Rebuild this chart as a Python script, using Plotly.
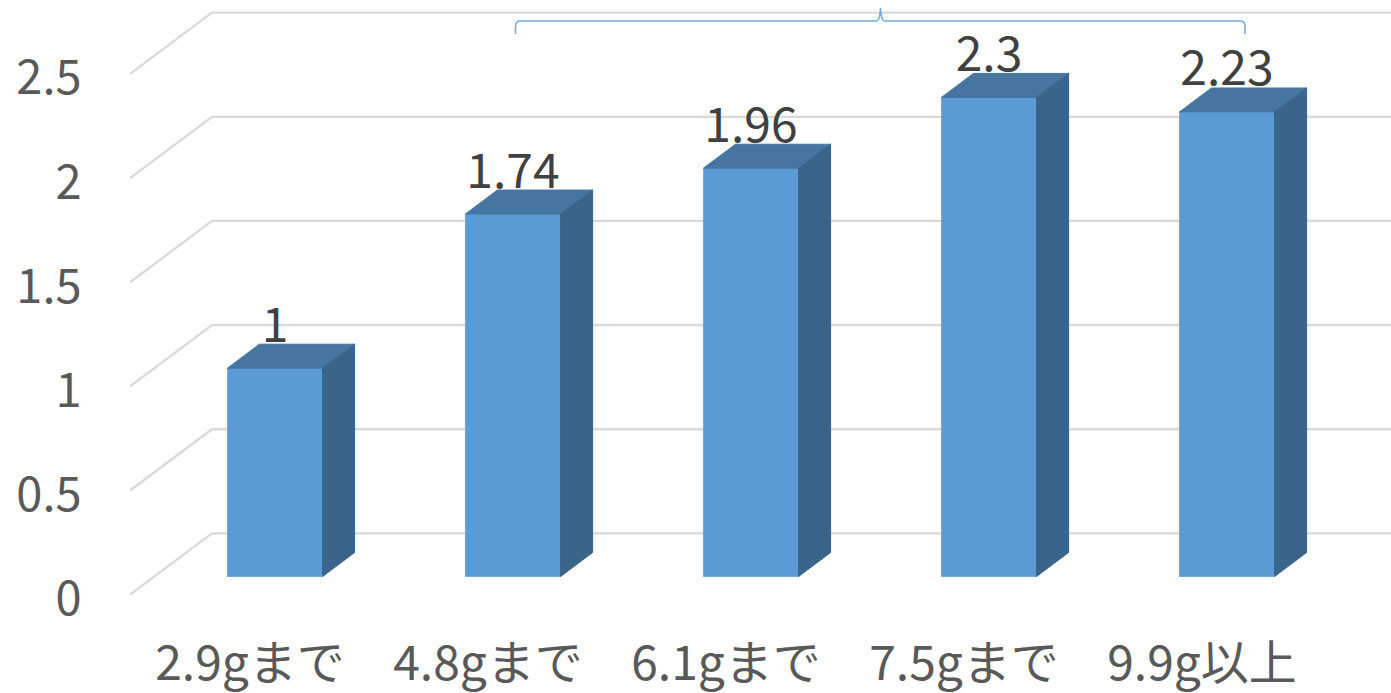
import plotly.graph_objects as go

# Chart data
categories = ["2.9gまで", "4.8gまで", "6.1gまで", "7.5gまで", "9.9g以上"]
values = [1, 1.74, 1.96, 2.3, 2.23]
y_ticks = [0, 0.5, 1, 1.5, 2, 2.5]
y_tick_labels = ["0", "0.5", "1", "1.5", "2", "2.5"]

# Canvas and scale
W, H = 1391, 693
UNIT_X = 238.0     # pixels per category step
UNIT_Y = 208.3     # pixels per value unit

# Projection: each plane of the pseudo-3D box has its own origin in pixels
FRONT_X0, FRONT_Y0 = 250.0, 594.7   # category 0 / value 0 on the front plane
BAR_X0, BAR_Y0 = 275.0, 576.5       # category 0 / value 0 on the bars' front faces
LEFT_EDGE = 130.0

BAR_WIDTH = 0.40
BAR_DX = 32.0 / UNIT_X
BAR_DY = 24.0 / UNIT_Y
WALL_DX = 82.0 / UNIT_X
WALL_DY = 61.3 / UNIT_Y
LABEL_GAP = 38.5 / UNIT_Y

FRONT_COLOR = "#5B9BD5"
TOP_COLOR = "#4675A2"
SIDE_COLOR = "#3A6489"
GRID_COLOR = "#D9D9D9"
FONT = "Noto Sans CJK JP, Noto Sans, sans-serif"

fig = go.Figure()

# Back wall gridlines with their diagonals running along the side wall
x_start = (LEFT_EDGE - FRONT_X0) / UNIT_X
x_end = (W - FRONT_X0) / UNIT_X
for v in y_ticks:
    fig.add_trace(go.Scatter(
        x=[x_start, x_start + WALL_DX, x_end],
        y=[v, v + WALL_DY, v + WALL_DY],
        mode="lines", line=dict(color=GRID_COLOR, width=2.3),
        hoverinfo="skip", showlegend=False, xaxis="x", yaxis="y",
    ))

# Front faces of the bars
fig.add_trace(go.Bar(
    x=list(range(len(values))), y=values, width=BAR_WIDTH,
    marker=dict(color=FRONT_COLOR, line=dict(color="#6FA8DC", width=1)),
    showlegend=False, xaxis="x2", yaxis="y2",
))

# Top and side faces, projected from each bar's value
half = BAR_WIDTH / 2
for i, v in enumerate(values):
    fig.add_trace(go.Scatter(
        x=[i - half, i - half + BAR_DX, i + half + BAR_DX, i + half, i - half],
        y=[v, v + BAR_DY, v + BAR_DY, v, v],
        mode="lines", fill="toself", fillcolor=TOP_COLOR,
        line=dict(color=TOP_COLOR, width=1),
        hoverinfo="skip", showlegend=False, xaxis="x2", yaxis="y2",
    ))
    fig.add_trace(go.Scatter(
        x=[i + half, i + half + BAR_DX, i + half + BAR_DX, i + half, i + half],
        y=[v, v + BAR_DY, BAR_DY, 0, v],
        mode="lines", fill="toself", fillcolor=SIDE_COLOR,
        line=dict(color=SIDE_COLOR, width=1),
        hoverinfo="skip", showlegend=False, xaxis="x2", yaxis="y2",
    ))

# Value labels above the bars
fig.add_trace(go.Scatter(
    x=list(range(len(values))), y=[v + LABEL_GAP for v in values],
    mode="text", text=[str(v) for v in values], textposition="middle center",
    textfont=dict(family=FONT, size=48, color="#404040"),
    hoverinfo="skip", showlegend=False, xaxis="x2", yaxis="y2",
))


def bx(px):
    return (px - BAR_X0) / UNIT_X


def by(py):
    return (BAR_Y0 - py) / UNIT_Y


# Brace spanning the upper groups
brace = (
    f"M {bx(515.5)} {by(34)} L {bx(515.5)} {by(26)} "
    f"Q {bx(516)} {by(21)} {bx(520)} {by(21)} "
    f"L {bx(876)} {by(21)} Q {bx(880)} {by(21)} {bx(880.5)} {by(8)} "
    f"Q {bx(881)} {by(21)} {bx(885)} {by(21)} "
    f"L {bx(1240)} {by(21)} Q {bx(1245)} {by(21)} {bx(1245)} {by(26)} "
    f"L {bx(1245)} {by(34)}"
)
fig.add_shape(type="path", path=brace, xref="x2", yref="y2",
              line=dict(color="#6FA8DC", width=1.5))

fig.update_layout(
    width=W, height=H, autosize=False,
    margin=dict(l=0, r=0, t=0, b=0),
    paper_bgcolor="white", plot_bgcolor="rgba(0,0,0,0)",
    showlegend=False,
    font=dict(family=FONT),
    # Front plane: carries the visible tick labels
    xaxis=dict(
        domain=[LEFT_EDGE / W, 1], range=[x_start, x_end], automargin=False,
        tickmode="array", tickvals=list(range(len(categories))), ticktext=categories,
        ticks="outside", ticklen=27, tickcolor="rgba(0,0,0,0)",
        tickfont=dict(family=FONT, size=48, color="#595959"),
        showgrid=False, zeroline=False, showline=False,
    ),
    yaxis=dict(
        domain=[(H - FRONT_Y0) / H, 1], range=[0, FRONT_Y0 / UNIT_Y], automargin=False,
        tickmode="array", tickvals=y_ticks, ticktext=y_tick_labels,
        ticks="outside", ticklen=38, ticklabelshift=4, tickcolor="rgba(0,0,0,0)",
        tickfont=dict(family=FONT, size=47, color="#595959"),
        showgrid=False, zeroline=False, showline=False,
    ),
    # Bar plane: same scale, shifted into the depth of the box
    # (an overlaying axis inherits the domain of the axis it overlays)
    xaxis2=dict(
        range=[(LEFT_EDGE - BAR_X0) / UNIT_X, (W - BAR_X0) / UNIT_X],
        overlaying="x", anchor="y2", visible=False, automargin=False,
    ),
    yaxis2=dict(
        range=[(BAR_Y0 - FRONT_Y0) / UNIT_Y, BAR_Y0 / UNIT_Y],
        overlaying="y", anchor="x2", visible=False, automargin=False,
    ),
)

fig.write_html("out.html", config=dict(displayModeBar=False))
